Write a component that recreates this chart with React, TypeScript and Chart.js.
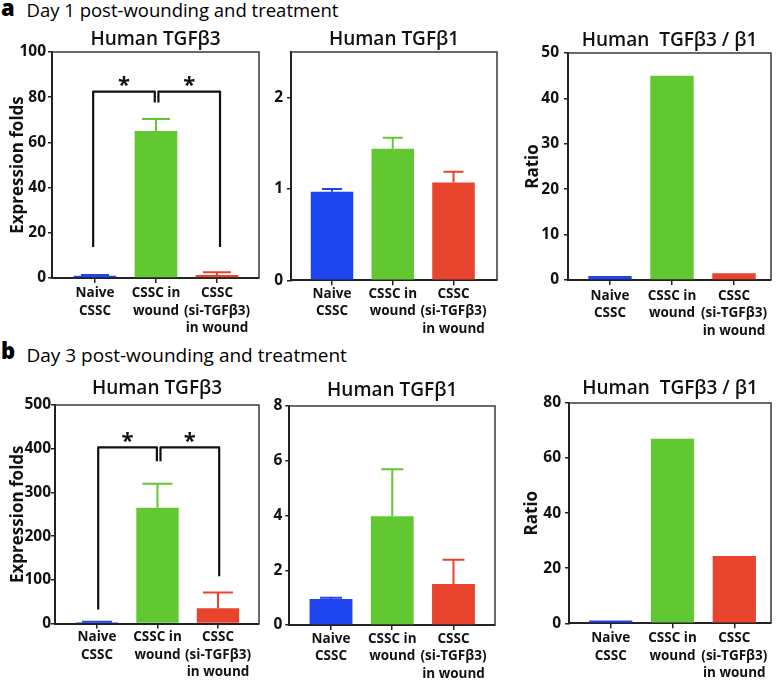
import React, { useEffect, useRef } from "react";
import { Chart, registerables } from "chart.js";

Chart.register(...registerables);

const FONT = "'Open Sans', 'DejaVu Sans', sans-serif";

// ---------------- data ----------------
const categories: string[][] = [
  ["Naive", "CSSC"],
  ["CSSC in", "wound"],
  ["CSSC", "(si-TGFβ3)", "in wound"],
];
const barColors = ["#1f45f0", "#62c831", "#e8432d"];

// Day 1
const day1Tgfb3 = [1.0, 65, 1.3];
const day1Tgfb3Err = [0.3, 5.4, 1.2];
const day1Tgfb3Ticks = [0, 20, 40, 60, 80, 100];
const day1Tgfb1 = [0.97, 1.44, 1.07];
const day1Tgfb1Err = [0.03, 0.12, 0.12];
const day1Tgfb1Ticks = [0, 1, 2];
const day1Ratio = [0.9, 45, 1.5];
const day1RatioTicks = [0, 10, 20, 30, 40, 50];

// Day 3
const day3Tgfb3 = [3, 265, 35];
const day3Tgfb3Err = [1, 55, 36];
const day3Tgfb3Ticks = [0, 100, 200, 300, 400, 500];
const day3Tgfb1 = [0.95, 3.97, 1.5];
const day3Tgfb1Err = [0.05, 1.72, 0.88];
const day3Tgfb1Ticks = [0, 2, 4, 6, 8];
const day3Ratio = [1, 67, 24.4];
const day3RatioTicks = [0, 20, 40, 60, 80];

// significance brackets: [fromX, toX, bracketY, leftLegEndY, rightLegEndY]
const day1Brackets = [
  [-0.03, 0.98, 82.5, 13.7, 77.7],
  [1.04, 2.05, 82.5, 77.7, 13.7],
];
const day1StarY = [87, 87];
const day3Brackets = [
  [0.02, 0.99, 403, 32, 371],
  [1.05, 2.02, 403, 371, 108],
];
const day3StarY = [426, 426];

// ---------------- plugins ----------------
const framePlugin = {
  id: "frame",
  afterDraw(chart: any) {
    const { ctx, chartArea } = chart;
    const { left, top, right, bottom } = chartArea;
    ctx.save();
    ctx.strokeStyle = "#3a3a3a";
    ctx.lineWidth = 1.5;
    ctx.beginPath();
    ctx.moveTo(left, top);
    ctx.lineTo(right, top);
    ctx.lineTo(right, bottom);
    ctx.stroke();
    ctx.restore();
  },
};

const errorBarPlugin = {
  id: "errorBars",
  afterDatasetsDraw(chart: any, _args: any, opts: any) {
    if (!opts || !opts.errors) return;
    const meta = chart.getDatasetMeta(0);
    const ys = chart.scales.y;
    const ctx = chart.ctx;
    ctx.save();
    ctx.lineWidth = 2;
    meta.data.forEach((bar: any, i: number) => {
      const v = chart.data.datasets[0].data[i].y;
      const top = ys.getPixelForValue(v + opts.errors[i]);
      ctx.strokeStyle = barColors[i];
      ctx.beginPath();
      ctx.moveTo(bar.x, bar.y);
      ctx.lineTo(bar.x, top);
      ctx.moveTo(bar.x - opts.cap / 2, top);
      ctx.lineTo(bar.x + opts.cap / 2, top);
      ctx.stroke();
    });
    ctx.restore();
  },
};

const bracketPlugin = {
  id: "brackets",
  afterDatasetsDraw(chart: any, _args: any, opts: any) {
    if (!opts || !opts.brackets) return;
    const xs = chart.scales.x;
    const ys = chart.scales.y;
    const ctx = chart.ctx;
    ctx.save();
    ctx.lineWidth = 2.2;
    ctx.strokeStyle = "#111";
    ctx.lineJoin = "round";
    opts.brackets.forEach((b: number[], i: number) => {
      const [x1, x2, yb, yl, yr] = b;
      const px1 = xs.getPixelForValue(x1);
      const px2 = xs.getPixelForValue(x2);
      ctx.beginPath();
      ctx.moveTo(px1, ys.getPixelForValue(yl));
      ctx.lineTo(px1, ys.getPixelForValue(yb));
      ctx.lineTo(px2, ys.getPixelForValue(yb));
      ctx.lineTo(px2, ys.getPixelForValue(yr));
      ctx.stroke();
      ctx.fillStyle = "#111";
      ctx.font = `bold 22px ${FONT}`;
      ctx.textAlign = "center";
      ctx.textBaseline = "middle";
      ctx.fillText("*", (px1 + px2) / 2, ys.getPixelForValue(opts.stars[i]) + 4);
    });
    ctx.restore();
  },
};

// ---------------- panel layout ----------------
interface PanelCfg {
  title: string;
  values: number[];
  errors?: number[];
  ticks: number[];
  yMax: number;
  yTitle?: string;
  yTitlePad?: number;
  brackets?: number[][];
  stars?: number[];
  box: { L: number; T: number; R: number; B: number };
  cx: number;
  cw: number;
  bottom: number;
  xMin: number;
  xMax: number;
  titleGap: number;
  tickPad: number;
  labelPad: number;
  cap?: number;
}

const panels: PanelCfg[] = [
  {
    title: "Human TGFβ3", values: day1Tgfb3, errors: day1Tgfb3Err, ticks: day1Tgfb3Ticks, yMax: 100,
    yTitle: "Expression folds", yTitlePad: 7.8, brackets: day1Brackets, stars: day1StarY,
    box: { L: 52, T: 52, R: 259, B: 278 }, cx: 0, cw: 262, bottom: 340,
    xMin: -0.705, xMax: 2.689, titleGap: 12.5, tickPad: 2, labelPad: 1.5, cap: 28,
  },
  {
    title: "Human TGFβ1", values: day1Tgfb1, errors: day1Tgfb1Err, ticks: day1Tgfb1Ticks, yMax: 2.5,
    box: { L: 291, T: 52, R: 497, B: 280.3 }, cx: 262, cw: 240, bottom: 340,
    xMin: -0.675, xMax: 2.716, titleGap: 12.5, tickPad: 4, labelPad: 0, cap: 20,
  },
  {
    title: "Human  TGFβ3 / β1", values: day1Ratio, ticks: day1RatioTicks, yMax: 50,
    yTitle: "Ratio", yTitlePad: 8.1,
    box: { L: 568, T: 52.7, R: 771, B: 280 }, cx: 515, cw: 263, bottom: 340,
    xMin: -0.677, xMax: 2.597, titleGap: 12.7, tickPad: 5, labelPad: 2.2,
  },
  {
    title: "Human TGFβ3", values: day3Tgfb3, errors: day3Tgfb3Err, ticks: day3Tgfb3Ticks, yMax: 500,
    yTitle: "Expression folds", yTitlePad: 7.8, brackets: day3Brackets, stars: day3StarY,
    box: { L: 55, T: 405, R: 259, B: 623.5 }, cx: 0, cw: 262, bottom: 681,
    xMin: -0.694, xMax: 2.678, titleGap: 16.7, tickPad: 0, labelPad: 0, cap: 30,
  },
  {
    title: "Human TGFβ1", values: day3Tgfb1, errors: day3Tgfb1Err, ticks: day3Tgfb1Ticks, yMax: 8,
    box: { L: 289.3, T: 405.7, R: 495, B: 625 }, cx: 262, cw: 238, bottom: 681,
    xMin: -0.681, xMax: 2.678, titleGap: 15.7, tickPad: 3, labelPad: 0, cap: 22,
  },
  {
    title: "Human  TGFβ3 / β1", values: day3Ratio, ticks: day3RatioTicks, yMax: 80,
    yTitle: "Ratio", yTitlePad: 7.3,
    box: { L: 569, T: 402.7, R: 771, B: 623.3 }, cx: 515, cw: 263, bottom: 681,
    xMin: -0.675, xMax: 2.594, titleGap: 14.4, tickPad: 4, labelPad: 1.2,
  },
];

const HEAD = 45;
const TITLE_SIZE = 19;
const TITLE_LH = TITLE_SIZE * 1.2;

function BarPanel({ cfg }: { cfg: PanelCfg }) {
  const ref = useRef<HTMLCanvasElement>(null);
  const cy = cfg.box.T - HEAD;
  const ch = cfg.bottom - cy;
  useEffect(() => {
    const yw = cfg.box.L - cfg.cx;
    const xh = cfg.bottom - cfg.box.B;
    const pb = cfg.titleGap - TITLE_LH / 2;
    const pt = HEAD - TITLE_LH - pb;
    const chart = new Chart(ref.current as HTMLCanvasElement, {
      type: "bar",
      data: {
        datasets: [
          {
            data: cfg.values.map((v, i) => ({ x: i, y: v })),
            backgroundColor: barColors,
            borderWidth: 0,
            barPercentage: 0.7,
            categoryPercentage: 1,
          } as any,
        ],
      },
      options: {
        animation: false,
        responsive: false,
        events: [],
        layout: { padding: { left: 0, top: 0, bottom: 0, right: cfg.cx + cfg.cw - cfg.box.R } },
        plugins: {
          legend: { display: false },
          tooltip: { enabled: false },
          title: {
            display: true,
            text: cfg.title,
            fullSize: false,
            color: "#111",
            font: { family: FONT, size: TITLE_SIZE, weight: "600", lineHeight: 1.2 },
            padding: { top: pt, bottom: pb },
          },
          errorBars: cfg.errors ? { errors: cfg.errors, cap: cfg.cap } : {},
          brackets: cfg.brackets ? { brackets: cfg.brackets, stars: cfg.stars } : {},
        } as any,
        scales: {
          x: {
            type: "linear",
            min: cfg.xMin,
            max: cfg.xMax,
            offset: false,
            afterBuildTicks: (s: any) => {
              s.ticks = categories.map((_, i) => ({ value: i }));
            },
            afterFit: (s: any) => {
              s.height = xh;
              s.paddingLeft = 0;
              s.paddingRight = 0;
            },
            ticks: {
              callback: (v: any) => categories[Math.round(Number(v))],
              color: "#111",
              font: { family: FONT, size: 13.5, weight: "bold", lineHeight: 1.3 },
              padding: cfg.labelPad,
              maxRotation: 0,
              minRotation: 0,
              autoSkip: false,
            },
            grid: { drawOnChartArea: false, drawTicks: true, tickLength: 5, color: "#222", lineWidth: 1.5, offset: false },
            border: { display: true, color: "#222", width: 2 },
          },
          y: {
            type: "linear",
            min: 0,
            max: cfg.yMax,
            afterBuildTicks: (s: any) => {
              s.ticks = cfg.ticks.map((v) => ({ value: v }));
            },
            afterFit: (s: any) => {
              s.width = yw;
              s.paddingTop = 0;
              s.paddingBottom = 0;
            },
            ticks: {
              color: "#111",
              font: { family: FONT, size: 15.5, weight: "bold" },
              padding: cfg.tickPad,
            },
            title: {
              display: !!cfg.yTitle,
              text: cfg.yTitle || "",
              color: "#111",
              font: { family: FONT, size: 17, weight: "bold", lineHeight: 1.2 },
              padding: { top: cfg.yTitlePad || 0, bottom: 0 },
            },
            grid: { drawOnChartArea: false, drawTicks: true, tickLength: 4, color: "#222", lineWidth: 1.5 },
            border: { display: true, color: "#222", width: 2 },
          },
        } as any,
      },
      plugins: [framePlugin, errorBarPlugin, bracketPlugin],
    });
    return () => chart.destroy();
  }, []);
  return (
    <canvas
      ref={ref}
      width={cfg.cw}
      height={ch}
      style={{ position: "absolute", left: cfg.cx, top: cy, width: cfg.cw, height: ch }}
    />
  );
}

export default function App() {
  const letter: React.CSSProperties = {
    position: "absolute",
    fontFamily: FONT,
    fontWeight: 800,
    fontSize: 22,
    lineHeight: "22px",
    color: "#000",
    whiteSpace: "nowrap",
  };
  const heading: React.CSSProperties = {
    position: "absolute",
    fontFamily: FONT,
    fontWeight: 400,
    lineHeight: "20px",
    color: "#000",
    whiteSpace: "nowrap",
  };
  return (
    <div
      style={{
        position: "absolute",
        left: 0,
        top: 0,
        width: 778,
        height: 681,
        overflow: "hidden",
        background: "#fff",
      }}
    >
      <div style={{ ...letter, left: 1, top: -4.5 }}>a</div>
      <div style={{ ...heading, left: 26.5, top: 0, fontSize: 18.5 }}>Day 1 post-wounding and treatment</div>
      <div style={{ ...letter, left: 1, top: 338.5 }}>b</div>
      <div style={{ ...heading, left: 26.5, top: 344.7, fontSize: 19 }}>Day 3 post-wounding and treatment</div>
      {panels.map((p, i) => (
        <BarPanel key={i} cfg={p} />
      ))}
    </div>
  );
}
